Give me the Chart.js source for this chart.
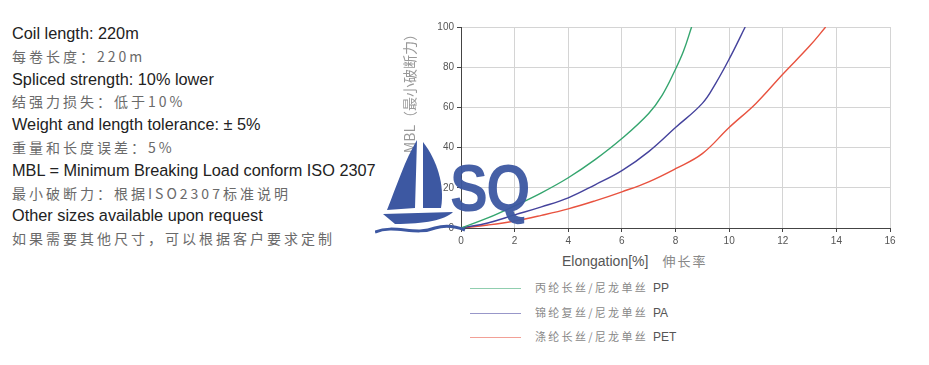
<!DOCTYPE html>
<html>
<head>
<meta charset="utf-8">
<script src="https://cdn.jsdelivr.net/npm/chart.js@4/dist/chart.umd.min.js"></script>
<style>
body { margin:0; background:#fff; width:929px; height:365px; overflow:hidden; position:relative; font-family:"Liberation Sans", Arial, sans-serif; }
#info { position:absolute; left:12px; top:22px; }
#info div { height:22.8px; line-height:22.8px; white-space:nowrap; }
#info .en { font-size:16.3px; color:#222; }
#info .cn { font-size:14px; color:#6a6a6a; letter-spacing:3px; font-family:"Noto Sans CJK SC", sans-serif; }
#wrap { position:absolute; left:395px; top:15px; width:534px; height:235px; }
#xtitle { position:absolute; left:562px; top:251px; font-size:14px; color:#555; white-space:nowrap; }
#xtitle span { font-family:"Noto Sans CJK SC", sans-serif; color:#888; letter-spacing:2px; margin-left:14px; font-size:13px; }
#legend { position:absolute; left:470px; top:278px; }
#legend div { height:24.5px; line-height:18px; font-size:12px; color:#555; white-space:nowrap; }
#legend i { display:inline-block; width:51px; height:0; border-top:1.5px solid; vertical-align:middle; margin-right:14px; opacity:0.55; }
#legend b { font-weight:normal; font-family:"Noto Sans CJK SC", sans-serif; font-size:11px; letter-spacing:2.3px; display:inline-block; width:118px; color:#888; }
#logo { position:absolute; left:375px; top:140px; width:170px; height:95px; pointer-events:none; }
#sq { position:absolute; left:450px; top:150px; font-size:66px; font-weight:bold; color:#3d58a2; font-family:"Liberation Sans", Arial, sans-serif; letter-spacing:-2px; transform:scaleX(0.86); transform-origin:left top; opacity:0.95; }
</style>
</head>
<body>
<div id="info">
  <div class="en">Coil length: 220m</div>
  <div class="cn">每卷长度：220m</div>
  <div class="en">Spliced strength: 10% lower</div>
  <div class="cn">结强力损失：低于10%</div>
  <div class="en">Weight and length tolerance: ± 5%</div>
  <div class="cn">重量和长度误差：5%</div>
  <div class="en">MBL = Minimum Breaking Load conform ISO 2307</div>
  <div class="cn">最小破断力：根据ISO2307标准说明</div>
  <div class="en">Other sizes available upon request</div>
  <div class="cn">如果需要其他尺寸，可以根据客户要求定制</div>
</div>
<div id="wrap"><canvas id="myChart"></canvas></div>
<div id="xtitle">Elongation[%]<span>伸长率</span></div>
<div id="legend"></div>
<svg id="logo" viewBox="0 0 170 95">
  <path d="M42 0 C30 20 22 45 12 70 L40 68 Z" fill="#3d58a2"/>
  <path d="M48 2 C62 20 70 45 66 68 L48 68 Z" fill="#3d58a2"/>
  <path d="M8 74 L78 72 C70 80 50 84 20 84 Z" fill="#3d58a2"/>
  <path d="M0 92 C20 84 40 96 60 88 C70 85 80 86 90 90" stroke="#3d58a2" stroke-width="3" fill="none"/>
</svg>
<div id="sq">SQ</div>
<script>
// elongation [%] vs load [% MBL]
var pp_x  = [0, 1, 2, 3, 4, 5, 6, 7, 7.5, 8, 8.3, 8.6];
var pp_y  = [0, 5, 11, 17.5, 25, 34, 44.5, 57, 66, 79, 88, 100];
var pa_x  = [0, 1, 2, 3, 4, 5, 6, 7, 8, 9, 9.5, 10, 10.6];
var pa_y  = [0, 2.5, 6.5, 10.5, 15, 21.5, 28.5, 38, 50, 62, 72, 84, 100];
var pet_x = [0, 1, 2, 3, 4, 5, 6, 7, 8, 9, 10, 11, 12, 13, 13.6];
var pet_y = [0, 1.5, 3.5, 6.3, 9.5, 13.5, 18, 23, 29.5, 37, 50, 62, 76.5, 90.5, 100];

var names  = ["丙纶长丝/尼龙单丝", "锦纶复丝/尼龙单丝", "涤纶长丝/尼龙单丝"];
var codes  = ["PP", "PA", "PET"];
var colors = ["#34a56e", "#44429c", "#e8523f"];

function pts(xs, ys) {
	var out = [];
	for (var i = 0; i < xs.length; i++) out.push({x: xs[i], y: ys[i]});
	return out;
}
var series = [pts(pp_x, pp_y), pts(pa_x, pa_y), pts(pet_x, pet_y)];

var lg = document.getElementById('legend');
for (var k = 0; k < 3; k++) {
	lg.innerHTML += '<div><i style="border-color:' + colors[k] + '"></i><b>' + names[k] + '</b>' + codes[k] + '</div>';
}

var ctx = document.getElementById('myChart').getContext('2d');
var chart = new Chart(ctx, {
	type: 'line',
	data: {
		datasets: series.map(function(d, k) {
			return { label: codes[k], data: d, borderColor: colors[k], borderWidth: 1.4,
				pointRadius: 0, tension: 0.4, fill: false };
		})
	},
	options: {
		responsive: true,
		maintainAspectRatio: false,
		animation: false,
		layout: { padding: { left: 0, right: 39, top: 12, bottom: 0 } },
		plugins: { legend: { display: false }, tooltip: { enabled: false } },
		scales: {
			x: {
				type: 'linear', min: 0, max: 16,
				ticks: { stepSize: 2, color: '#555', font: { size: 10 }, padding: 3 },
				grid: { color: '#d4d4d4', tickColor: '#444', tickLength: 4 },
				border: { color: '#444' }
			},
			y: {
				min: 0, max: 100,
				ticks: { stepSize: 20, color: '#555', font: { size: 10 }, padding: 3 },
				grid: { color: '#d4d4d4', tickColor: '#444', tickLength: 4 },
				border: { color: '#444' },
				title: { display: true, text: 'MBL（最小破断力）', color: '#999', align: 'end',
					font: { size: 14, family: '"Noto Sans CJK SC", sans-serif' }, padding: 6 },
				afterFit: function(scale) { scale.width = 66; }
			}
		}
	}
});
</script>
</body>
</html>
